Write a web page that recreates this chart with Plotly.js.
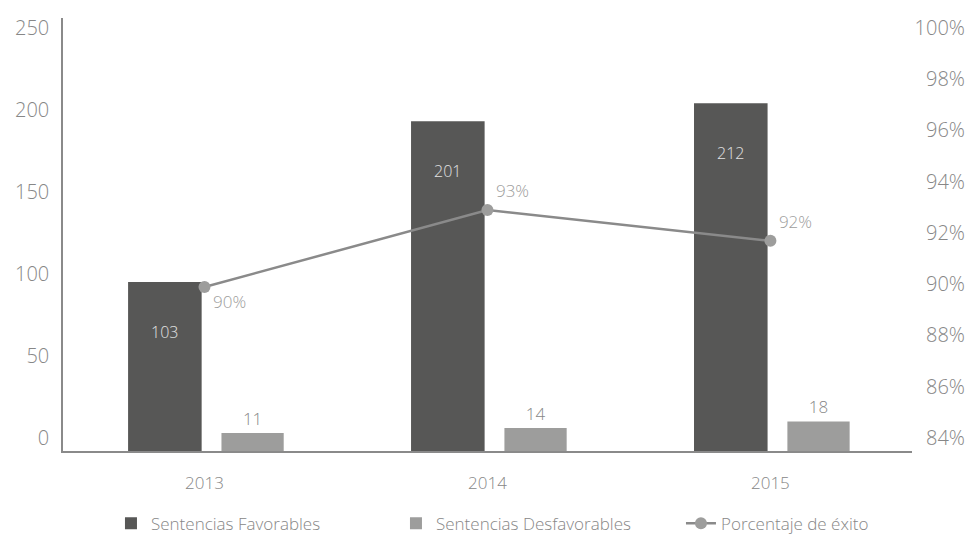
<!DOCTYPE html>
<html>
<head>
<meta charset="utf-8">
<script src="https://cdn.plot.ly/plotly-3.0.1.min.js"></script>
<style>html,body{margin:0;padding:0;background:#fff;}#chart{width:973px;height:546px;}</style>
</head>
<body>
<div id="chart"></div>
<script>
// ---- data ----
const years = ['2013', '2014', '2015'];
const favorables = [103, 201, 212];
const desfavorables = [11, 14, 18];
const exito = [0.904, 0.934, 0.922];
const leftTicks = [0, 50, 100, 150, 200, 250];
const rightTicks = [0.84, 0.86, 0.88, 0.90, 0.92, 0.94, 0.96, 0.98, 1.00];
const seriesNames = ['Sentencias Favorables', 'Sentencias Desfavorables', 'Porcentaje de éxito'];

const FONT = '"Open Sans", "Liberation Sans", sans-serif';
const DARK = '#575756';
const LIGHT = '#9d9d9c';
const TXT = '#878787';

const traces = [
  {
    type: 'bar', name: seriesNames[0], x: years, y: favorables,
    marker: {color: DARK}, offset: -0.27, width: 0.26,
    hoverinfo: 'y'
  },
  {
    type: 'bar', name: seriesNames[1], x: years, y: desfavorables,
    marker: {color: LIGHT}, offset: 0.06, width: 0.22,
    text: desfavorables.map(String), textposition: 'outside',
    textfont: {family: FONT, size: 17, color: TXT, weight: 300},
    cliponaxis: false, hoverinfo: 'y'
  },
  {
    type: 'scatter', mode: 'lines+markers+text', name: seriesNames[2],
    x: years, y: exito, yaxis: 'y2',
    line: {color: '#8a8a8a', width: 2.5},
    marker: {color: LIGHT, size: 12},
    texttemplate: '%{y:.0%}',
    textposition: ['bottom right', 'top right', 'top right'],
    textfont: {family: FONT, size: 17, color: LIGHT, weight: 300},
    cliponaxis: false
  }
];

const annotations = favorables.map((v, i) => ({
  x: i - 0.14, y: v, xref: 'x', yref: 'y',
  text: String(v), showarrow: false, yshift: -50,
  font: {family: FONT, size: 16, color: '#e2e2e2', weight: 300}
}));

const layout = {
  width: 973, height: 546,
  margin: {l: 63, r: 5, t: 4, b: 93},
  paper_bgcolor: '#fff', plot_bgcolor: 'rgba(0,0,0,0)',
  font: {family: FONT, color: TXT},
  showlegend: true,
  barmode: 'overlay',
  xaxis: {
    type: 'category', domain: [0, 0.938],
    showline: true, linecolor: '#8a8a8a', linewidth: 1.5,
    showgrid: false, zeroline: false, ticks: '',
    tickfont: {family: FONT, size: 17, color: TXT, weight: 300},
    ticklabelstandoff: 16
  },
  yaxis: {
    domain: [0, 0.9688],
    range: [0, 264], tickvals: leftTicks,
    showline: true, linecolor: '#8a8a8a', linewidth: 1.5,
    showgrid: false, zeroline: false, ticks: '',
    tickfont: {family: FONT, size: 20, color: TXT, weight: 300},
    ticklabelshift: -13, ticklabelstandoff: 8
  },
  yaxis2: {
    domain: [0, 1], side: 'right', anchor: 'free', position: 1,
    range: [0.84, 1.0144], tickvals: rightTicks, tickformat: '.0%',
    showline: false, showgrid: false, zeroline: false, ticks: '',
    ticklabelposition: 'inside', ticklabelshift: -13,
    tickfont: {family: FONT, size: 20, color: TXT, weight: 300}
  },
  legend: {
    orientation: 'h', x: 0.053, xanchor: 'left', y: -0.203, yanchor: 'bottom',
    font: {family: FONT, size: 17, color: TXT, weight: 300},
    entrywidth: 240, entrywidthmode: 'pixels',
    traceorder: 'normal'
  },
  annotations: annotations
};

Plotly.newPlot('chart', traces, layout, {displayModeBar: false, responsive: false});
</script>
</body>
</html>
